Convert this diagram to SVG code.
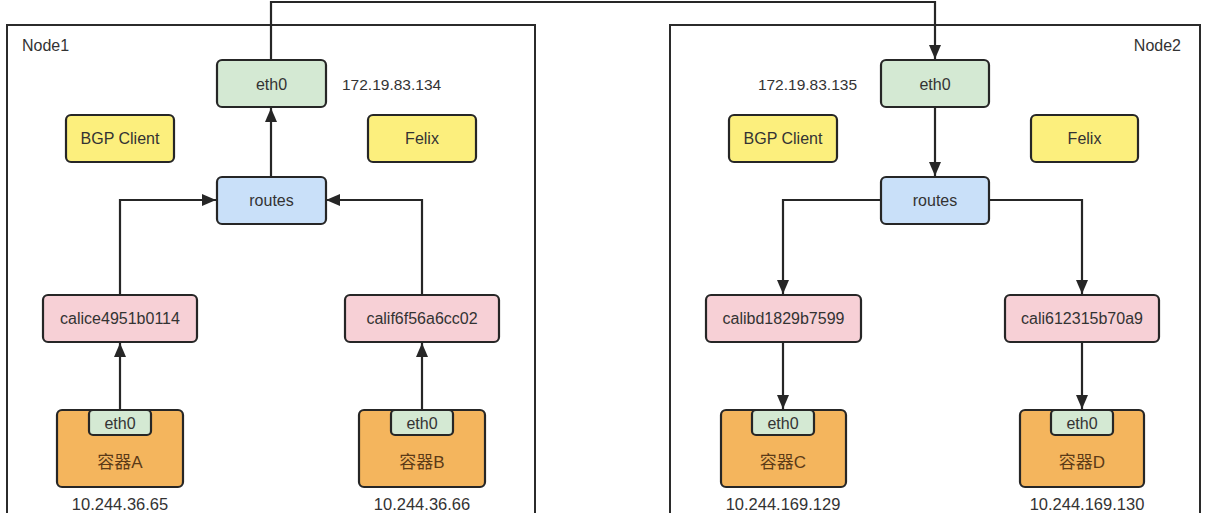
<svg xmlns="http://www.w3.org/2000/svg" width="1206" height="513" viewBox="0 0 1206 513">
<style>
.frame{fill:none;stroke:#2b2b2b;stroke-width:2}
.box{stroke:#262626;stroke-width:2.2}
.eth{fill:#d4e9d3}
.rt{fill:#c9e0f9}
.yl{fill:#fcef7d}
.pk{fill:#f7d0d6}
.or{fill:#f4b55d}
.t{font-family:"Liberation Sans","Noto Sans CJK SC",Arial,sans-serif;font-size:16px;fill:#333;text-anchor:middle;dominant-baseline:central}
.ip{font-family:"Liberation Sans",Arial,sans-serif;font-size:15.5px;fill:#333;dominant-baseline:central}
.nl{font-family:"Liberation Sans",Arial,sans-serif;font-size:16px;fill:#333;dominant-baseline:central}
.ct{font-family:"Liberation Sans","Noto Sans CJK SC",sans-serif;font-size:17px;fill:#5b3a17;text-anchor:middle;dominant-baseline:central}
.c{fill:none;stroke:#262626;stroke-width:2.2;marker-end:url(#arr)}
</style>
<defs>
<marker id="arr" markerUnits="userSpaceOnUse" markerWidth="14" markerHeight="12" viewBox="0 0 14 12" refX="14" refY="6" orient="auto">
<path d="M0,0 L14,6 L0,12 Z" fill="#262626"/>
</marker>
</defs>
<rect width="1206" height="513" fill="#ffffff"/>
<g id="node1">
<rect class="frame" x="7" y="25" width="528" height="500"/>
<text class="nl" x="22" y="45">Node1</text>
</g>
<g id="node2">
<rect class="frame" x="670" y="25" width="530" height="500"/>
<text class="nl" x="1181" y="45" text-anchor="end">Node2</text>
</g>
<g id="connectors">
<path class="c" d="M271,60 V2 H935 V59"/>
<path class="c" d="M271,177 V108"/>
<path class="c" d="M120,295 V200 H216"/>
<path class="c" d="M422,295 V200 H326"/>
<path class="c" d="M120,410 V343"/>
<path class="c" d="M422,410 V343"/>
<path class="c" d="M935,107 V176"/>
<path class="c" d="M881,200 H783 V294"/>
<path class="c" d="M989,200 H1082 V294"/>
<path class="c" d="M783,342 V409"/>
<path class="c" d="M1082,342 V409"/>
</g>
<g id="n1-eth0"><rect class="box eth" x="217" y="60" width="109" height="47" rx="5"/><text class="t" x="271.5" y="84">eth0</text></g>
<g id="n1-ip"><text class="ip" x="342" y="84">172.19.83.134</text></g>
<g id="n1-bgp"><rect class="box yl" x="66" y="115" width="108" height="47" rx="5"/><text class="t" x="120" y="138.5">BGP Client</text></g>
<g id="n1-felix"><rect class="box yl" x="368" y="115" width="108" height="47" rx="5"/><text class="t" x="422" y="138.5">Felix</text></g>
<g id="n1-routes"><rect class="box rt" x="217" y="177" width="109" height="47" rx="5"/><text class="t" x="271.5" y="200">routes</text></g>
<g id="n1-cali1"><rect class="box pk" x="43" y="295" width="154" height="47" rx="5"/><text class="t" x="120" y="318.5">calice4951b0114</text></g>
<g id="n1-cali2"><rect class="box pk" x="345" y="295" width="154" height="47" rx="5"/><text class="t" x="422" y="318.5">calif6f56a6cc02</text></g>
<g id="containerA">
<rect class="box or" x="57" y="410" width="126" height="77" rx="5"/>
<rect class="box eth" x="89" y="410" width="62" height="25" rx="4"/>
<text class="t" x="120" y="423">eth0</text>
<text class="ct" x="120" y="462">容器A</text>
<text class="t" x="120" y="504" style="font-size:16.5px">10.244.36.65</text>
</g>
<g id="containerB">
<rect class="box or" x="359" y="410" width="126" height="77" rx="5"/>
<rect class="box eth" x="391" y="410" width="62" height="25" rx="4"/>
<text class="t" x="422" y="423">eth0</text>
<text class="ct" x="422" y="462">容器B</text>
<text class="t" x="422" y="504" style="font-size:16.5px">10.244.36.66</text>
</g>
<g id="n2-eth0"><rect class="box eth" x="881" y="60" width="108" height="47" rx="5"/><text class="t" x="935" y="84">eth0</text></g>
<g id="n2-ip"><text class="ip" x="857" y="84" text-anchor="end">172.19.83.135</text></g>
<g id="n2-bgp"><rect class="box yl" x="729" y="115" width="108" height="47" rx="5"/><text class="t" x="783" y="138.5">BGP Client</text></g>
<g id="n2-felix"><rect class="box yl" x="1031" y="115" width="107" height="47" rx="5"/><text class="t" x="1084.5" y="138.5">Felix</text></g>
<g id="n2-routes"><rect class="box rt" x="881" y="177" width="108" height="47" rx="5"/><text class="t" x="935" y="200">routes</text></g>
<g id="n2-cali1"><rect class="box pk" x="706" y="295" width="155" height="47" rx="5"/><text class="t" x="783.5" y="318.5">calibd1829b7599</text></g>
<g id="n2-cali2"><rect class="box pk" x="1005" y="295" width="154" height="47" rx="5"/><text class="t" x="1082" y="318.5">cali612315b70a9</text></g>
<g id="containerC">
<rect class="box or" x="721" y="410" width="125" height="77" rx="5"/>
<rect class="box eth" x="752" y="410" width="62" height="25" rx="4"/>
<text class="t" x="783" y="423">eth0</text>
<text class="ct" x="783" y="462">容器C</text>
<text class="t" x="783" y="504" style="font-size:16.5px">10.244.169.129</text>
</g>
<g id="containerD">
<rect class="box or" x="1020" y="410" width="124" height="77" rx="5"/>
<rect class="box eth" x="1051" y="410" width="62" height="25" rx="4"/>
<text class="t" x="1082" y="423">eth0</text>
<text class="ct" x="1082" y="462">容器D</text>
<text class="t" x="1087" y="504" style="font-size:16.5px">10.244.169.130</text>
</g>
</svg>
